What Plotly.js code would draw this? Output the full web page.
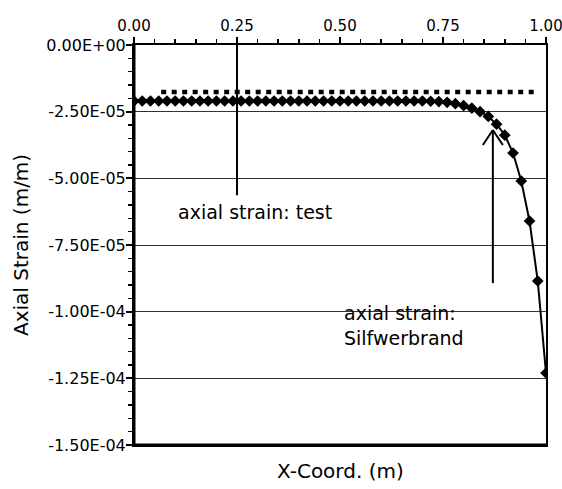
<!DOCTYPE html>
<html>
<head>
<meta charset="utf-8">
<script src="https://cdn.plot.ly/plotly-3.0.1.min.js"></script>
<style>html,body{margin:0;padding:0;background:#fff;}#chart{width:562px;height:489px;}</style>
</head>
<body>
<div id="chart"></div>
<script>
// Calculated axial strain (Silfwerbrand), diamonds
const calcX = [0.00,0.02,0.04,0.06,0.08,0.10,0.12,0.14,0.16,0.18,0.20,0.22,0.24,0.26,0.28,0.30,0.32,0.34,0.36,0.38,0.40,0.42,0.44,0.46,0.48,0.50,0.52,0.54,0.56,0.58,0.60,0.62,0.64,0.66,0.68,0.70,0.72,0.74,0.76,0.78,0.80,0.82,0.84,0.86,0.88,0.90,0.92,0.94,0.96,0.98,1.00];
const calcStrain = [-2.10e-5,-2.10e-5,-2.10e-5,-2.10e-5,-2.10e-5,-2.10e-5,-2.10e-5,-2.10e-5,-2.10e-5,-2.10e-5,-2.10e-5,-2.10e-5,-2.10e-5,-2.10e-5,-2.10e-5,-2.10e-5,-2.10e-5,-2.10e-5,-2.10e-5,-2.10e-5,-2.10e-5,-2.10e-5,-2.10e-5,-2.10e-5,-2.10e-5,-2.10e-5,-2.10e-5,-2.10e-5,-2.10e-5,-2.10e-5,-2.10e-5,-2.10e-5,-2.10e-5,-2.10e-5,-2.10e-5,-2.10e-5,-2.11e-5,-2.12e-5,-2.15e-5,-2.20e-5,-2.27e-5,-2.37e-5,-2.50e-5,-2.68e-5,-2.97e-5,-3.38e-5,-4.05e-5,-5.10e-5,-6.60e-5,-8.85e-5,-1.23e-4];
// Measured axial strain (test), dotted line
const testX = [0.066, 0.98];
const testStrain = [-1.76e-5, -1.76e-5];

const xTickVals = [0, 0.25, 0.5, 0.75, 1.0];
const xTickText = ["0.00","0.25","0.50","0.75","1.00"];
const yTickVals = [0, -2.5e-5, -5e-5, -7.5e-5, -1e-4, -1.25e-4, -1.5e-4];
const yTickText = ["0.00E+00","-2.50E-05","-5.00E-05","-7.50E-05","-1.00E-04","-1.25E-04","-1.50E-04"];

const xTitle = "X-Coord. (m)";
const yTitle = "Axial Strain (m/m)";
const labelTest = "axial strain: test";
const labelCalc = "axial strain:<br>Silfwerbrand";

const FONT = "DejaVu Sans";

const traces = [
  {x: testX, y: testStrain, type: 'scatter', mode: 'lines',
   line: {color: '#000', width: 4.5, dash: '5px,5.5px'}, hoverinfo: 'skip', showlegend: false},
  {x: calcX, y: calcStrain, type: 'scatter', mode: 'lines+markers',
   line: {color: '#000', width: 2},
   marker: {symbol: 'diamond', size: 9, color: '#000'}, showlegend: false}
];

const arrowTip = {x: 0.871, y: -3.19e-5};
const arrowTail = {x: 0.871, y: -8.93e-5};

const layout = {
  width: 562, height: 489,
  margin: {l: 134, r: 16, t: 45, b: 44, pad: 0},
  paper_bgcolor: '#fff', plot_bgcolor: '#fff',
  showlegend: false,
  font: {family: FONT, color: '#000'},
  xaxis: {
    side: 'top', range: [0, 1], tickmode: 'array', tickvals: xTickVals, ticktext: xTickText,
    ticks: 'outside', ticklen: 6, tickwidth: 2, tickcolor: '#000',
    minor: {tickmode: 'linear', tick0: 0, dtick: 0.05, ticks: 'outside', ticklen: 4, tickwidth: 1.5, tickcolor: '#000', showgrid: false},
    showline: true, linewidth: 2, linecolor: '#000', mirror: true,
    showgrid: false, zeroline: false, ticklabeloverflow: 'allow',
    tickfont: {family: FONT, size: 15, color: '#000'}
  },
  yaxis: {
    range: [-1.5e-4, 0], tickmode: 'array', tickvals: yTickVals, ticktext: yTickText,
    ticks: 'outside', ticklen: 6, tickwidth: 2, tickcolor: '#000',
    minor: {tickmode: 'linear', tick0: 0, dtick: 5e-6, ticks: 'outside', ticklen: 4, tickwidth: 1.5, tickcolor: '#000', showgrid: false},
    showline: true, linewidth: 2, linecolor: '#000', mirror: true,
    showgrid: true, gridcolor: '#333', gridwidth: 1, zeroline: false,
    ticklabelstandoff: -3,
    tickfont: {family: FONT, size: 16, color: '#000'}
  },
  shapes: [
    // heavier left and bottom frame lines
    {type: 'line', xref: 'paper', yref: 'paper', x0: 0, x1: 0, y0: 0, y1: 1, line: {color: '#000', width: 3}},
    {type: 'line', xref: 'paper', yref: 'paper', x0: 0, x1: 1, y0: 0, y1: 0, line: {color: '#000', width: 3}},
    {type: 'line', xref: 'x', yref: 'y', x0: 0.25, x1: 0.25, y0: 0, y1: -5.63e-5, line: {color: '#000', width: 2}},
    {type: 'line', xref: 'x', yref: 'y', x0: arrowTail.x, x1: arrowTip.x, y0: arrowTail.y, y1: arrowTip.y, line: {color: '#000', width: 2}},
    {type: 'line', xref: 'x', yref: 'y', xsizemode: 'pixel', ysizemode: 'pixel', xanchor: arrowTip.x, yanchor: arrowTip.y,
     x0: 0, y0: 0, x1: -10, y1: -15, line: {color: '#000', width: 2}},
    {type: 'line', xref: 'x', yref: 'y', xsizemode: 'pixel', ysizemode: 'pixel', xanchor: arrowTip.x, yanchor: arrowTip.y,
     x0: 0, y0: 0, x1: 10, y1: -15, line: {color: '#000', width: 2}}
  ],
  annotations: [
    {text: labelTest, xref: 'x', yref: 'y', x: 0.294, y: -6.26e-5, xanchor: 'center', yanchor: 'middle',
     showarrow: false, font: {family: FONT, size: 19, color: '#000'}},
    {text: labelCalc, xref: 'x', yref: 'y', x: 0.506, y: -1.05e-4, xanchor: 'left', yanchor: 'middle', align: 'left',
     showarrow: false, font: {family: FONT, size: 19, color: '#000'}},
    {text: xTitle, xref: 'paper', yref: 'paper', x: 0.5, y: 0, xanchor: 'center', yanchor: 'top', yshift: -12,
     showarrow: false, font: {family: FONT, size: 20, color: '#000'}},
    {text: yTitle, xref: 'paper', yref: 'paper', x: 0, y: 0.5, xanchor: 'center', yanchor: 'middle', xshift: -113,
     textangle: -90, showarrow: false, font: {family: FONT, size: 20, color: '#000'}}
  ]
};

Plotly.newPlot('chart', traces, layout, {staticPlot: true, displayModeBar: false});
</script>
</body>
</html>
